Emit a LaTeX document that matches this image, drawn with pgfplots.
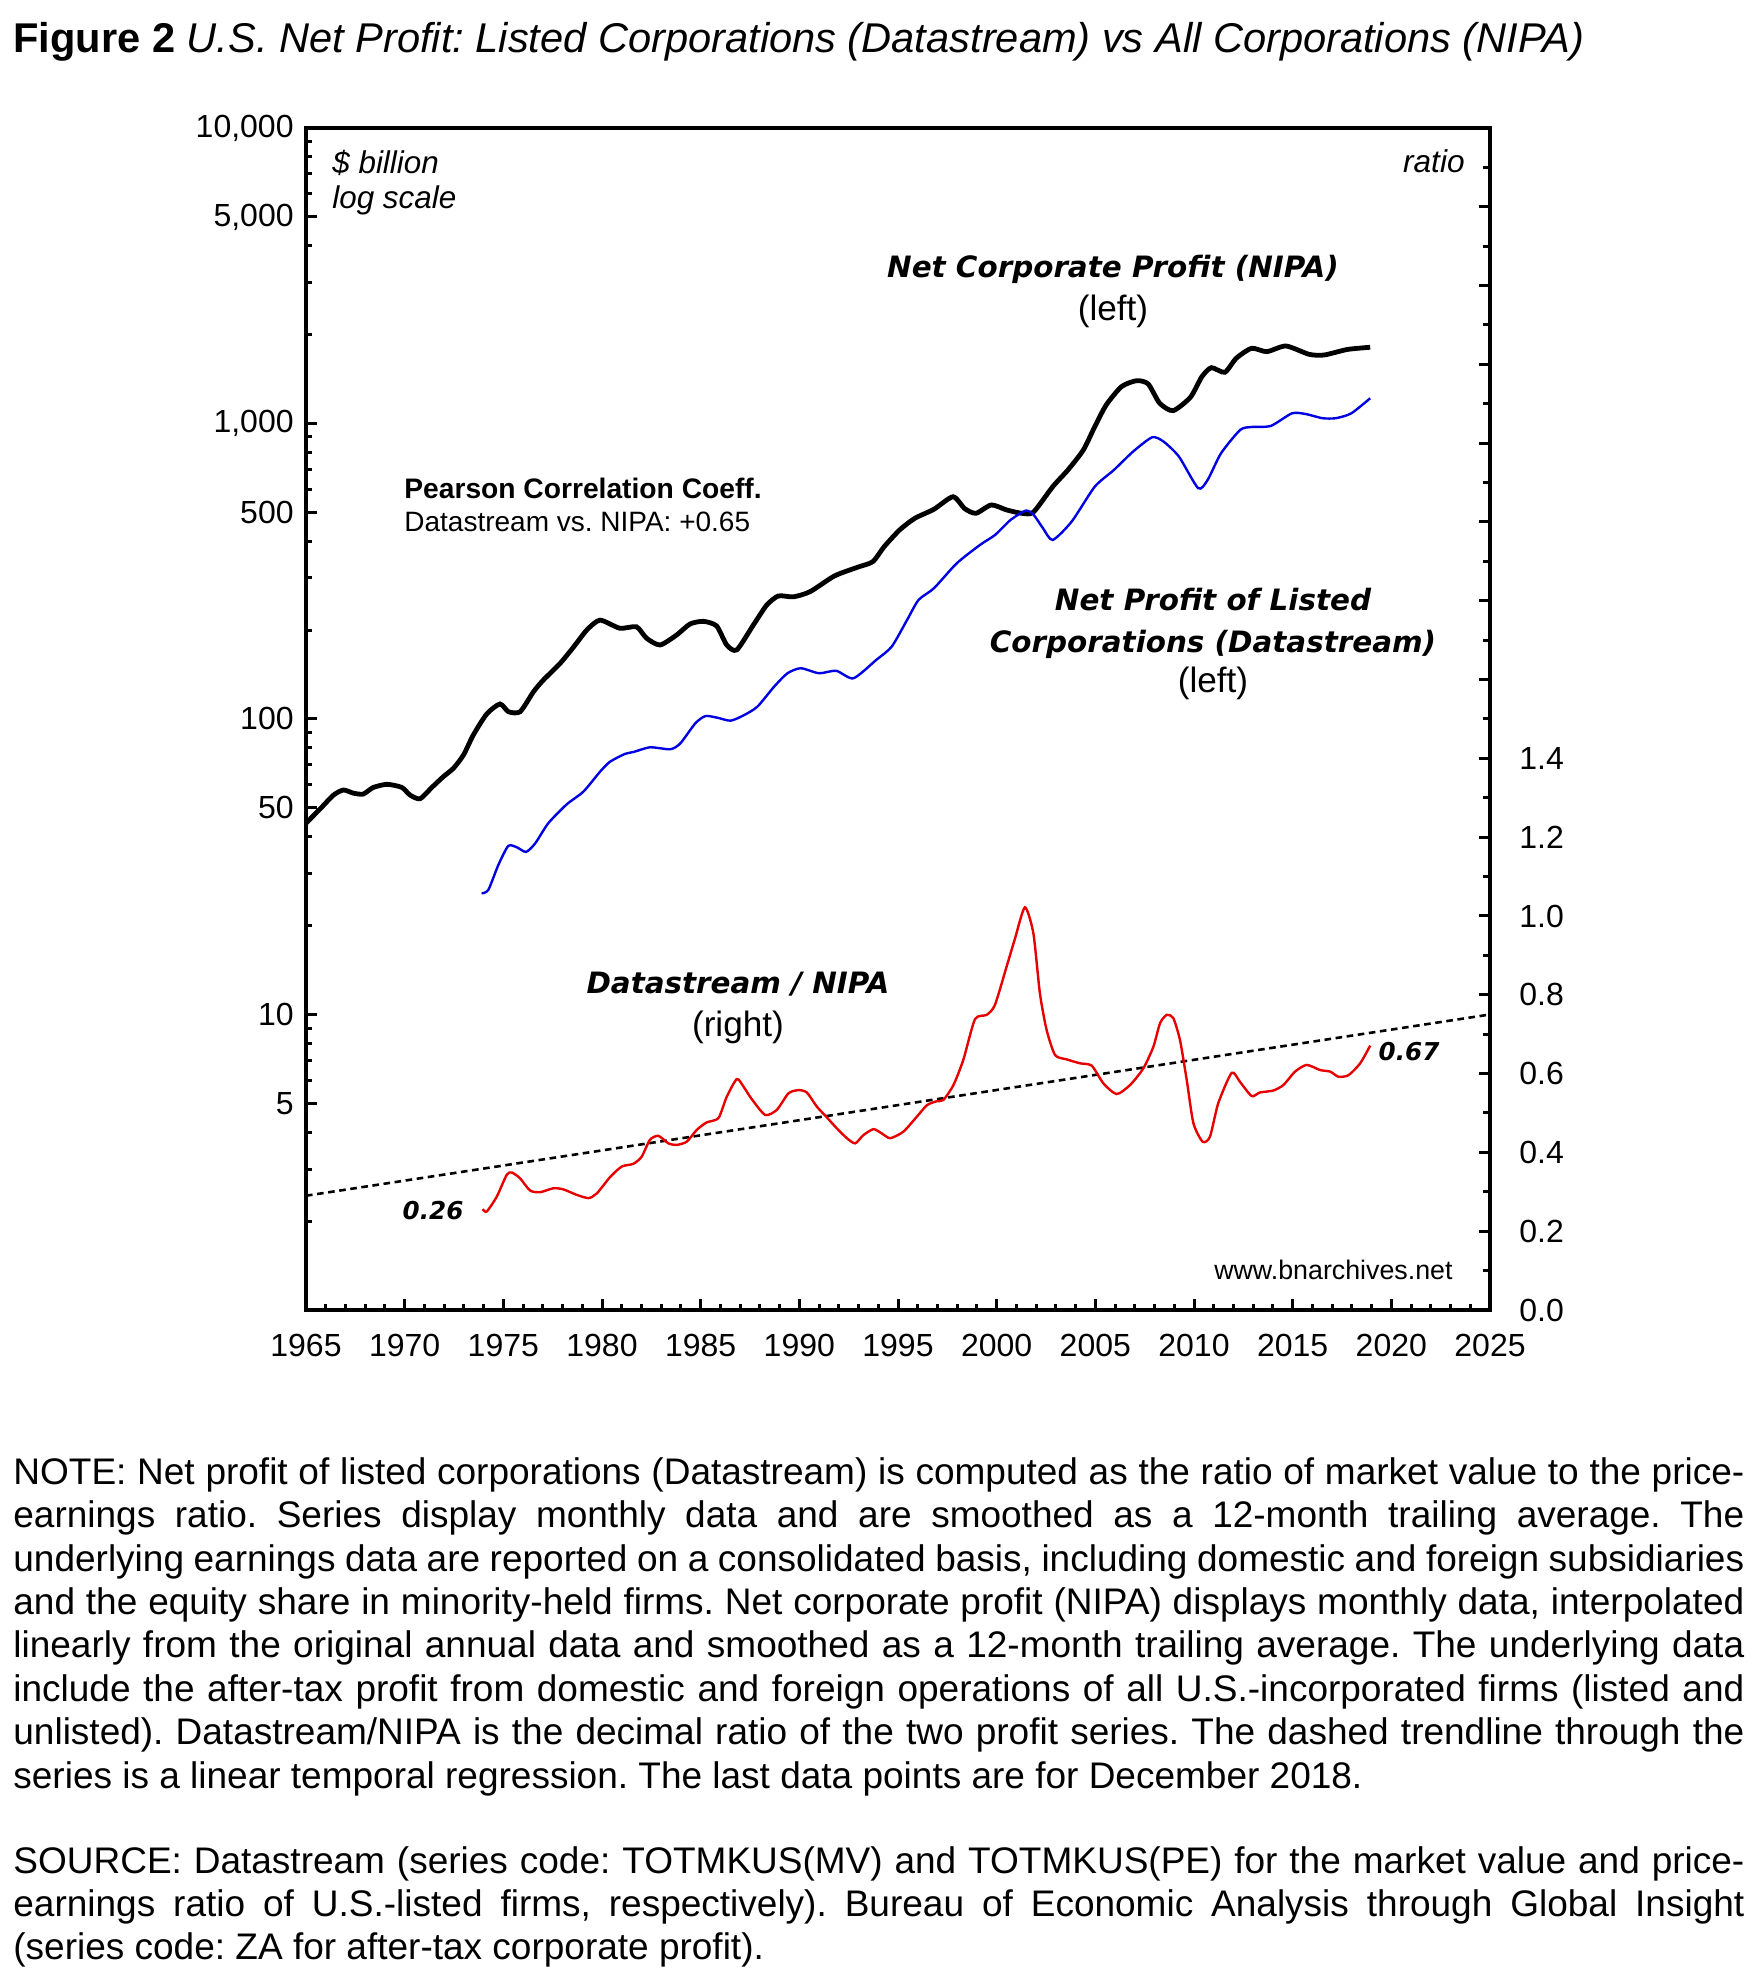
\documentclass[border=0pt]{standalone}
\usepackage{fontspec}
\setmainfont{Liberation Sans}
\newfontfamily\dvs{DejaVu Sans}
\usepackage{pgfplots}
\pgfplotsset{compat=1.18}
\definecolor{dsblue}{RGB}{0,0,225}
\definecolor{ratiored}{RGB}{230,0,0}
\frenchspacing
\begin{document}
\begin{tikzpicture}
\path (0pt,0pt) rectangle (881pt,992.5pt);
\begin{axis}[
 at={(153pt,337.5pt)}, anchor=south west,
 scale only axis, width=592pt, height=591pt,
 xmin=1965, xmax=2025, ymode=log, ymin=1, ymax=10000,
 xtick={1965,1970,...,2025}, minor x tick num=4,
 xticklabels={1965,1970,1975,1980,1985,1990,1995,2000,2005,2010,2015,2020,2025},
 ytick={5,10,50,100,500,1000,5000,10000},
 yticklabels={5,10,50,100,500,{1,000},{5,000},{10,000}},
 minor ytick={2,3,4,6,7,8,9,20,30,40,60,70,80,90,200,300,400,600,700,800,900,2000,3000,4000,6000,7000,8000,9000},
 xtick pos=bottom, ytick pos=left,
 tick align=inside,
 major tick length=5.5pt, minor tick length=3.2pt,
 tick style={line width=1.5pt,black},
 axis line style={line width=2pt},
 tick label style={font=\fontsize{16}{19}\selectfont},
 yticklabel style={anchor=east, inner sep=0pt, xshift=-6pt},
 xticklabel style={anchor=north, inner sep=0pt, yshift=-12pt},
]
\addplot[black, line width=2.4pt, smooth, tension=0.4] coordinates {
(1965.0,44.4) (1965.7,49.5) (1966.4,55.3) (1966.9,57.5) (1967.4,56.1) (1967.9,55.7)
(1968.4,58.6) (1969.1,60.1) (1969.85,58.7) (1970.27,55.3) (1970.78,53.7) (1971.37,58.6)
(1971.96,63.8) (1972.47,68.1) (1972.98,75.5) (1973.48,88.3) (1974.16,104) (1974.83,112.4)
(1975.26,105.8) (1975.85,105.8) (1976.53,123.7) (1977.03,135.5) (1977.88,154.3) (1978.55,174.9)
(1979.23,200) (1979.9,216) (1980.9,202.8) (1981.75,205) (1982.26,187.6) (1982.94,178)
(1983.78,192.4) (1984.46,209.6) (1985.14,214) (1985.81,206.4) (1986.32,178) (1986.83,171.3)
(1987.67,208) (1988.35,243) (1988.94,260.8) (1989.7,259) (1990.55,269.8) (1991.78,304.8)
(1992.94,326) (1993.72,340.7) (1994.30,383) (1995.08,436) (1995.85,477.5) (1996.82,512.5)
(1997.79,565) (1998.38,515) (1998.95,496.6) (1999.73,530) (2000.51,509.6) (2001.28,496.6)
(2001.86,501) (2002.84,611) (2003.61,696) (2004.39,813) (2004.97,975) (2005.55,1155)
(2006.33,1333) (2007.10,1396) (2007.68,1360) (2008.26,1171) (2008.94,1105) (2009.82,1227)
(2010.40,1440) (2010.88,1545) (2011.56,1490) (2012.14,1662) (2012.92,1796) (2013.69,1750)
(2014.66,1829) (2015.83,1714) (2016.60,1705) (2017.77,1780) (2018.93,1811)
};
\addplot[dsblue, line width=1.2pt, smooth, tension=0.4] coordinates {
(1973.9,25.7) (1974.24,26.4) (1974.75,32.1) (1975.25,37.2) (1975.68,36.8) (1976.15,35.5)
(1976.61,37.9) (1977.28,44.4) (1978.21,51.4) (1979.06,56.8) (1979.9,66.3) (1980.41,71.7)
(1981.17,76.2) (1981.59,77.3) (1982.44,80.2) (1983.46,79) (1983.97,82.7) (1984.73,96.7)
(1985.24,102.3) (1985.84,101) (1986.52,98.7) (1987.19,103) (1987.87,110) (1988.72,128.6)
(1989.4,142.8) (1990.07,148.5) (1991.0,142.8) (1991.87,145.6) (1992.74,137.3) (1993.9,158.5)
(1994.68,175.7) (1995.46,216.3) (1996.04,252.8) (1996.82,276.9) (1997.98,336.5) (1999.15,388)
(1999.92,419.6) (2000.7,471.3) (2001.47,507) (2001.86,492) (2002.35,441.8) (2002.84,403.5)
(2003.8,465.5) (2004.97,611) (2005.94,696) (2006.91,803) (2007.88,898) (2008.46,868)
(2009.24,772) (2010.21,604) (2010.69,644) (2011.37,793) (2012.34,951) (2012.92,973)
(2013.89,981) (2014.96,1082) (2015.64,1077) (2016.51,1042) (2017.19,1042) (2017.97,1082)
(2018.93,1217)
};
\end{axis}
\begin{axis}[
 at={(153pt,337.5pt)}, anchor=south west,
 scale only axis, width=592pt, height=591pt,
 xmin=1965, xmax=2025, ymin=0, ymax=3,
 axis x line=none, axis y line*=right,
 ytick={0,0.2,0.4,0.6,0.8,1.0,1.2,1.4,1.6,1.8,2.0,2.2,2.4,2.6,2.8,3.0},
 yticklabels={0.0,0.2,0.4,0.6,0.8,1.0,1.2,1.4,{},{},{},{},{},{},{},{}},
 minor ytick={0.1,0.3,0.5,0.7,0.9,1.1,1.3,1.5,1.7,1.9,2.1,2.3,2.5,2.7,2.9},
 tick align=inside,
 major tick length=5.5pt, minor tick length=3.7pt,
 tick style={line width=1.5pt,black},
 axis line style={line width=2pt},
 tick label style={font=\fontsize{16}{19}\selectfont},
 yticklabel style={anchor=west, inner sep=0pt, xshift=14.5pt},
]
\addplot[black, line width=1.3pt, dash pattern=on 3.3pt off 2.3pt] coordinates {(1965,0.29) (2025,0.75)};
\addplot[ratiored, line width=1.2pt, smooth, tension=0.4] coordinates {
(1973.95,0.256) (1974.16,0.250) (1974.67,0.288) (1975.17,0.343) (1975.43,0.349) (1975.85,0.334)
(1976.36,0.303) (1976.87,0.299) (1977.54,0.309) (1978.05,0.306) (1978.73,0.292) (1979.32,0.284)
(1979.74,0.296) (1980.42,0.338) (1981.0,0.364) (1981.59,0.371) (1982.01,0.389) (1982.43,0.432)
(1982.86,0.442) (1983.36,0.423) (1983.78,0.419) (1984.29,0.427) (1984.8,0.457) (1985.3,0.476)
(1985.9,0.487) (1986.32,0.541) (1986.83,0.586) (1987.17,0.567) (1987.59,0.535) (1988.27,0.495)
(1988.86,0.508) (1989.45,0.550) (1989.96,0.558) (1990.38,0.552) (1990.89,0.516) (1991.39,0.489)
(1991.9,0.461) (1992.41,0.436) (1992.83,0.423) (1993.25,0.444) (1993.76,0.459) (1994.18,0.448)
(1994.61,0.436) (1995.28,0.453) (1995.96,0.491) (1996.47,0.520) (1996.97,0.530) (1997.3,0.533)
(1997.81,0.571) (1998.31,0.635) (1998.9,0.738) (1999.49,0.749) (1999.91,0.774) (2000.5,0.871)
(2000.93,0.943) (2001.43,1.022) (2001.86,0.956) (2002.19,0.804) (2002.53,0.711) (2002.96,0.647)
(2003.55,0.636) (2004.23,0.626) (2004.82,0.620) (2005.41,0.575) (2006.08,0.548) (2006.76,0.571)
(2007.43,0.613) (2007.94,0.668) (2008.28,0.728) (2008.62,0.749) (2008.95,0.741) (2009.29,0.685)
(2009.63,0.584) (2009.97,0.474) (2010.44,0.427) (2010.81,0.440) (2011.23,0.525) (2011.91,0.602)
(2012.33,0.579) (2012.92,0.543) (2013.34,0.552) (2014.02,0.557) (2014.53,0.571) (2015.12,0.605)
(2015.71,0.622) (2016.39,0.609) (2016.9,0.605) (2017.32,0.592) (2017.83,0.596) (2018.42,0.626)
(2018.93,0.671)
};
\end{axis}
% title
\node[anchor=west, inner sep=0pt, font=\fontsize{20.8}{25}\selectfont] at (6.5pt,971.6pt)
 {\textbf{Figure 2} \textit{U.S. Net Profit: Listed Corporations (Datastream) vs All Corporations (NIPA)}};
% in-plot texts
\node[anchor=base west, inner sep=0pt, font=\fontsize{15.7}{18}\selectfont\itshape] at (166pt,905.8pt) {\$ billion};
\node[anchor=base west, inner sep=0pt, font=\fontsize{15.7}{18}\selectfont\itshape] at (166pt,888.3pt) {log scale};
\node[anchor=base east, inner sep=0pt, font=\fontsize{15.8}{18}\selectfont\itshape] at (732.5pt,906.3pt) {ratio};
\node[anchor=base, inner sep=0pt, font=\fontsize{14.7}{17}\selectfont\dvs\bfseries\itshape] at (556.5pt,853.5pt) {Net Corporate Profit (NIPA)};
\node[anchor=base, inner sep=0pt, font=\fontsize{17.6}{20}\selectfont] at (556.5pt,832pt) {(left)};
\node[anchor=base, inner sep=0pt, font=\fontsize{14.7}{17}\selectfont\dvs\bfseries\itshape] at (606.5pt,687pt) {Net Profit of Listed};
\node[anchor=base, inner sep=0pt, font=\fontsize{14.7}{17}\selectfont\dvs\bfseries\itshape] at (606.5pt,666pt) {Corporations (Datastream)};
\node[anchor=base, inner sep=0pt, font=\fontsize{17.6}{20}\selectfont] at (606.5pt,646pt) {(left)};
\node[anchor=base west, inner sep=0pt, font=\fontsize{14.1}{17}\selectfont\bfseries] at (202pt,743pt) {Pearson Correlation Coeff.};
\node[anchor=base west, inner sep=0pt, font=\fontsize{14}{17}\selectfont] at (202pt,726.5pt) {Datastream vs. NIPA: +0.65};
\node[anchor=base, inner sep=0pt, font=\fontsize{14.7}{17}\selectfont\dvs\bfseries\itshape] at (369pt,495.5pt) {Datastream / NIPA};
\node[anchor=base, inner sep=0pt, font=\fontsize{17.6}{20}\selectfont] at (369pt,474pt) {(right)};
\node[anchor=base east, inner sep=0pt, font=\fontsize{13.4}{16}\selectfont] at (726.5pt,352.7pt) {www.bnarchives.net};
\node[inner sep=0pt, font=\fontsize{12.3}{14}\selectfont\dvs\bfseries\itshape] at (216.5pt,387pt) {0.26};
\node[inner sep=0pt, font=\fontsize{12.3}{14}\selectfont\dvs\bfseries\itshape] at (704.5pt,466.5pt) {0.67};
% notes
\node[anchor=north west, inner sep=0pt, text width=865.5pt, align=justify,
 font=\fontsize{18.5}{21.7}\selectfont] at (6.5pt,264pt) {%
\parindent=0pt\tolerance=10000\hyphenpenalty=10000\exhyphenpenalty=10000\frenchspacing
NOTE: Net profit of listed corporations (Datastream) is computed as the ratio of market value to the price-\linebreak
earnings ratio. Series display monthly data and are smoothed as a 12-month trailing average. The\linebreak
underlying earnings data are reported on a consolidated basis, including domestic and foreign subsidiaries\linebreak
and the equity share in minority-held firms. Net corporate profit (NIPA) displays monthly data, interpolated\linebreak
linearly from the original annual data and smoothed as a 12-month trailing average. The underlying data\linebreak
include the after-tax profit from domestic and foreign operations of all U.S.-incorporated firms (listed and\linebreak
unlisted). Datastream/NIPA is the decimal ratio of the two profit series. The dashed trendline through the\linebreak
series is a linear temporal regression. The last data points are for December 2018.\par
\vspace{20.8pt}
SOURCE: Datastream (series code: TOTMKUS(MV) and TOTMKUS(PE) for the market value and price-\linebreak
earnings ratio of U.S.-listed firms, respectively). Bureau of Economic Analysis through Global Insight\linebreak
(series code: ZA for after-tax corporate profit).\par}
;
\end{tikzpicture}
\end{document}
